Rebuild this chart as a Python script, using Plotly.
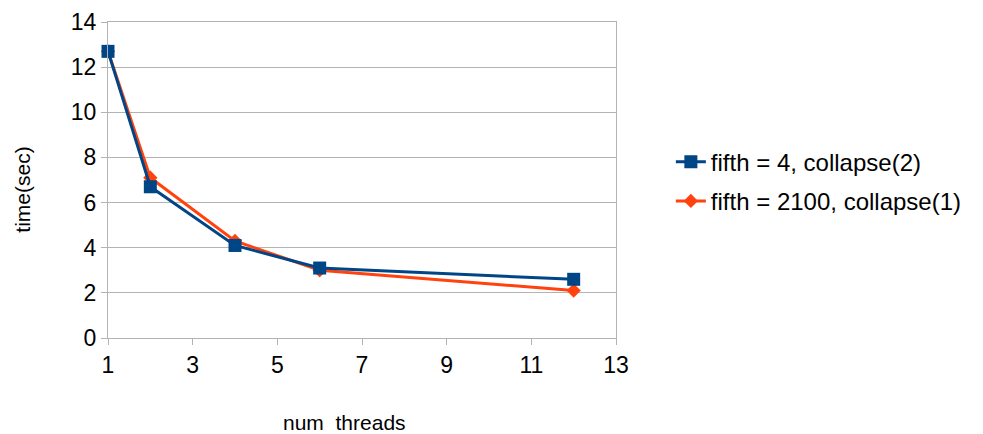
import plotly.graph_objects as go

threads = [1, 2, 4, 6, 12]
collapse2 = [12.7, 6.7, 4.1, 3.1, 2.6]
collapse1 = [12.7, 7.1, 4.3, 3.0, 2.1]
names = ["fifth = 4, collapse(2)", "fifth = 2100, collapse(1)"]
x_ticks = [1, 3, 5, 7, 9, 11, 13]
y_ticks = [0, 2, 4, 6, 8, 10, 12, 14]

fig = go.Figure()
fig.add_trace(go.Scatter(x=threads, y=collapse1, name=names[1], mode="lines+markers",
                         legendgroup="b", legendrank=2, cliponaxis=False,
                         line=dict(color="#ff420e", width=3),
                         marker=dict(symbol="diamond", size=11, color="#ff420e")))
fig.add_trace(go.Scatter(x=threads, y=collapse2, name=names[0], mode="lines+markers",
                         legendgroup="a", legendrank=1, cliponaxis=False,
                         line=dict(color="#004586", width=3),
                         marker=dict(symbol="square", size=13, color="#004586")))

grid = "#b3b3b3"
fig.update_layout(
    width=983, height=434,
    margin=dict(l=108, r=367, t=22, b=96),
    paper_bgcolor="white", plot_bgcolor="white",
    font=dict(family="Liberation Sans, Arial, sans-serif", color="#000000"),
    showlegend=True,
    legend=dict(x=1.108, y=0.495, xanchor="left", yanchor="middle",
                traceorder="grouped", font=dict(size=24),
                tracegroupgap=5, itemwidth=30),
    xaxis=dict(range=[1, 13], tickvals=x_ticks, showgrid=False, zeroline=False,
               showline=True, linecolor=grid, linewidth=1, mirror=True,
               ticks="outside", ticklen=6, tickcolor=grid, automargin=False,
               tickfont=dict(size=23)),
    yaxis=dict(range=[0, 14], tickvals=y_ticks, showgrid=True, gridcolor=grid,
               zeroline=False, showline=True, linecolor=grid, linewidth=1, mirror=True,
               ticks="outside", ticklen=6, tickcolor=grid, automargin=False,
               tickfont=dict(size=23)),
    annotations=[
        dict(text="num  threads", xref="paper", yref="paper", x=0.4665, y=-0.268,
             xanchor="center", yanchor="middle", showarrow=False, font=dict(size=21)),
        dict(text="time(sec)", xref="paper", yref="paper", x=-0.169, y=0.47,
             xanchor="center", yanchor="middle", showarrow=False, textangle=-90,
             font=dict(size=21)),
    ],
)
fig.write_html("out.html")
